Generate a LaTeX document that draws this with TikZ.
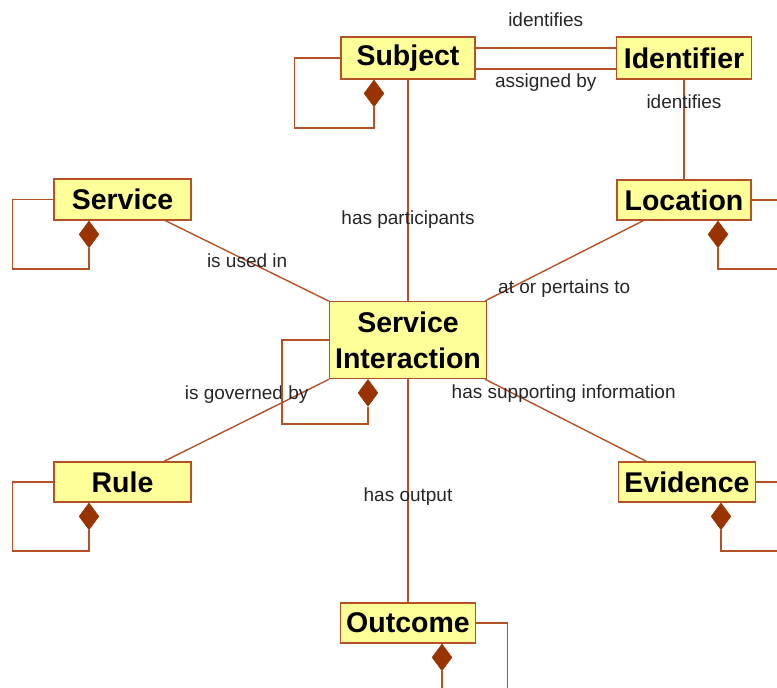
\documentclass[tikz,border=0pt]{standalone}
\usepackage{fontspec}
\setmainfont{Liberation Sans}
\usetikzlibrary{shapes.geometric}
\definecolor{linebrown}{RGB}{180,82,38}
\definecolor{boxfill}{RGB}{255,255,153}
\definecolor{diafill}{RGB}{153,51,0}

\begin{document}
\begin{tikzpicture}[x=1pt,y=-1pt,
        entity/.style={draw=linebrown,fill=boxfill,line width=1.4pt,inner sep=0pt,align=center,font=\fontsize{28.5}{36}\selectfont\bfseries},
        rel/.style={draw=linebrown,line width=1.4pt},
        agg/.style={diamond,draw=diafill,fill=diafill,inner sep=0pt,minimum width=20pt,minimum height=27pt,anchor=north},
        lbl/.style={font=\fontsize{19}{22}\selectfont,text=black!85,inner sep=0pt}]
        \useasboundingbox (0,0) rectangle (777,688);
        \node[entity,minimum width=134pt,minimum height=42pt] (subj) at (408,58) {Subject};
        \node[entity,minimum width=135pt,minimum height=42pt] (ident) at (684,58) {Identifier};
        \node[entity,minimum width=137pt,minimum height=41pt] (serv) at (122.5,199.5) {Service};
        \node[entity,minimum width=134pt,minimum height=40pt] (loc) at (684,200) {Location};
        \node[entity,minimum width=157pt,minimum height=77pt] (si) at (408,340) {Service\\Interaction};
        \node[entity,minimum width=137pt,minimum height=40pt] (rule) at (122.5,482) {Rule};
        \node[entity,minimum width=137pt,minimum height=40pt] (evid) at (687,482) {Evidence};
        \node[entity,minimum width=135pt,minimum height=40pt] (outc) at (408,623) {Outcome};
        \node[agg] (subjd) at ([xshift=-34pt]subj.south) {};
        \node[agg] (servd) at ([xshift=-33.5pt]serv.south) {};
        \node[agg] (sid) at ([xshift=-40pt]si.south) {};
        \node[agg] (ruled) at ([xshift=-33.5pt]rule.south) {};
        \node[agg] (locd) at ([xshift=34pt]loc.south) {};
        \node[agg] (evidd) at ([xshift=34pt]evid.south) {};
        \node[agg] (outcd) at ([xshift=34pt]outc.south) {};
        \draw[rel] ([yshift=10pt]subj.east) -- node[lbl,yshift=28pt] (lidf) {identifies} ([yshift=10pt]ident.west);
        \draw[rel] ([yshift=-11pt]subj.east) -- node[lbl,yshift=-13.5pt] (lasg) {assigned by} ([yshift=-11pt]ident.west);
        \draw[rel] (ident.south) -- node[lbl,pos=0.22] (lidl) {identifies} (loc.north);
        \draw[rel] (subj.south) -- node[lbl,pos=0.633] (lpar) {has participants} (si.north);
        \draw[rel] (serv) -- node[lbl] (luse) {is used in} (si);
        \draw[rel] (si) -- node[lbl,yshift=-28pt] (lpert) {at or pertains to} (loc);
        \draw[rel] (si) -- node[lbl,yshift=26pt] (lgov) {is governed by} (rule);
        \draw[rel] (si) -- node[lbl,xshift=-2pt,yshift=26.5pt] (lsup) {has supporting information} (evid);
        \draw[rel] (si.south) -- node[lbl,pos=0.527] (lout) {has output} (outc.north);
        \draw[rel] (subj.west) -- ++(-46,0) -- ++(0,70) -| (subjd.south);
        \draw[rel] (serv.west) -- ++(-41,0) -- ++(0,69.5) -| (servd.south);
        \draw[rel] (si.west) -- ++(-47,0) -- ++(0,84) -| (sid.south);
        \draw[rel] (rule.west) -- ++(-41,0) -- ++(0,69) -| (ruled.south);
        \draw[rel] (loc.east) -- ++(26,0);
        \draw[rel] (locd.south) -- ++(0,21) -- ++(59,0);
        \draw[rel] (evid.east) -- ++(22,0);
        \draw[rel] (evidd.south) -- ++(0,21) -- ++(56,0);
        \draw[rel] (outc.east) -- ++(31,0) -- ++(0,66);
        \draw[rel] (outcd.south) -- ++(0,18);
\end{tikzpicture}
\end{document}
